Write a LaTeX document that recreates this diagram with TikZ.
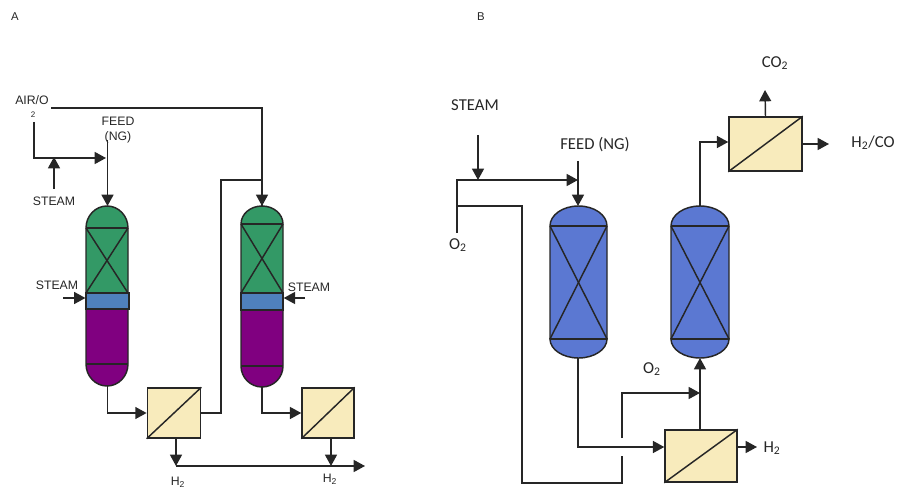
\documentclass[tikz,border=0pt]{standalone}
\usepackage{fontspec}
\setmainfont{Liberation Sans}
\newfontfamily\calib{Carlito}
\usetikzlibrary{arrows.meta}
\definecolor{vesselgreen}{HTML}{339966}
\definecolor{sectionblue}{HTML}{4F81BD}
\definecolor{vesselpurple}{HTML}{800080}
\definecolor{vesselblue}{HTML}{5B78D2}
\definecolor{membranefill}{HTML}{F8EBBC}
\tikzset{
  shell/.style={draw=black!85, line width=1.1pt},
  pipe/.style={draw=black!85, line width=1.1pt},
  flow/.style={pipe, -{Triangle[length=8.5pt,width=9pt]}},
  membrane/.style={draw=black!85, line width=1.1pt, fill=membranefill, minimum width=#1, inner sep=0pt},
  section/.style={draw=black!85, line width=1.1pt, fill=sectionblue, inner sep=0pt},
  lblA/.style={font=\fontsize{9.2}{11}\selectfont, text=black!85, inner sep=0pt, align=center},
  lblB/.style={font=\calib\fontsize{12.5}{14}\selectfont, text=black!85, inner sep=0pt, align=center},
}
% top part of a vessel: centre, half width, top, head line, end of packing, colour
\newcommand{\vesseltop}[6]{
  \draw[shell, fill=#6] (#1-#2,#5) -- (#1-#2,#4)
    arc[start angle=180, end angle=360, x radius=#2, y radius=#4-#3] -- (#1+#2,#5) -- cycle;
  \draw[shell] (#1-#2,#4) -- (#1+#2,#4);
  \draw[shell] (#1-#2,#4) -- (#1+#2,#5);
  \draw[shell] (#1+#2,#4) -- (#1-#2,#5);
}
% lower part of a vessel: centre, half width, start, foot line, bottom, colour
\newcommand{\vesselbot}[6]{
  \draw[shell, fill=#6] (#1-#2,#3) -- (#1-#2,#4)
    arc[start angle=180, end angle=0, x radius=#2, y radius=#5-#4] -- (#1+#2,#3) -- cycle;
  \draw[shell] (#1-#2,#4) -- (#1+#2,#4);
}
\begin{document}
\begin{tikzpicture}[x=0.75pt, y=-0.75pt]
  \useasboundingbox (0,0) rectangle (899,488);
  % Panel letters
  \node[lblA, font=\fontsize{8.5}{10}\selectfont] (panelA) at (15,17) {A};
  \node[lblA, font=\fontsize{8.5}{10}\selectfont] (panelB) at (481,17) {B};

  % Vessels, panel A
  \vesseltop{107}{21}{206}{228}{293}{vesselgreen}
  \vesselbot{107}{21}{309}{364}{386}{vesselpurple}
  \node[section, minimum width=32pt, minimum height=12pt] (bandA) at (107.5,301) {};
  \vesseltop{262}{21}{206}{224}{293}{vesselgreen}
  \vesselbot{262}{21}{310}{366}{387}{vesselpurple}
  \node[section, minimum width=31.5pt, minimum height=12.75pt] (bandB) at (262,301.5) {};
  % Vessels, panel B
  \vesseltop{578.5}{28.5}{206}{226}{339}{vesselblue}
  \vesselbot{578.5}{28.5}{339}{339}{358}{vesselblue}
  \vesseltop{700}{29}{206}{226}{339}{vesselblue}
  \vesselbot{700}{29}{339}{339}{358}{vesselblue}

  % Membranes
  \node[membrane=40pt, minimum height=37.5pt] (memA) at (174,413) {};
  \node[membrane=39pt, minimum height=37.5pt] (memB) at (328,413) {};
  \node[membrane=54pt, minimum height=39pt] (memC) at (701,456) {};
  \node[membrane=54.75pt, minimum height=40.5pt] (memD) at (765.5,144) {};
  \foreach \m in {memA,memB,memC,memD}
    \draw[shell] (\m.south west) -- (\m.north east);

  % Labels, panel A
  \node[lblA] (airlbl) at (32,100) {AIR/O};
  \node[lblA, font=\fontsize{6}{7}\selectfont] (airsub) at (33,115) {2};
  \node[lblA] (feedA) at (118,130) {FEED\\(NG)};
  \node[lblA] (steamA) at (54,201) {STEAM};
  \node[lblA] (steamB) at (57,285) {STEAM};
  \node[lblA] (steamC) at (309,287) {STEAM};
  \node[lblA] (hA) at (178,482) {H\textsubscript{2}};
  \node[lblA] (hB) at (330,479) {H\textsubscript{2}};
  % Labels, panel B
  \node[lblB] (steamD) at (475,105) {STEAM};
  \node[lblB] (feedB) at (595,145) {FEED (NG)};
  \node[lblB] (oA) at (458,245) {O\textsubscript{2}};
  \node[lblB] (oB) at (652,369) {O\textsubscript{2}};
  \node[lblB] (hC) at (772,448) {H\textsubscript{2}};
  \node[lblB] (coA) at (775,63) {CO\textsubscript{2}};
  \node[lblB] (syn) at (873,143) {H\textsubscript{2}/CO};

  % Pipe ends, panel A
  \coordinate (vA) at (107.5,206);
  \coordinate (vAb) at (107.5,386);
  \coordinate (vB) at (262,206);
  \coordinate (vBb) at (262,387);
  \coordinate (airend) at (51,108);
  \coordinate (airlow) at (34,122);
  \coordinate (mix) at (106,158);
  \coordinate (feedtop) at (107.5,140);
  \coordinate (steamAs) at (54,189);
  \coordinate (steamAe) at (54,157);
  \coordinate (steamBs) at (63,298);
  \coordinate (steamCs) at (305,298);
  \coordinate (hmainA) at (176,466);
  \coordinate (hmainB) at (331,466);
  \coordinate (hend) at (365,466);
  % Pipe ends, panel B
  \coordinate (vC) at (578,206);
  \coordinate (vCb) at (578,358);
  \coordinate (vD) at (700,206);
  \coordinate (vDb) at (700,358);
  \coordinate (steamDs) at (478,135);
  \coordinate (steamDe) at (478,180);
  \coordinate (feedBs) at (578,161);
  \coordinate (oAs) at (457,233);
  \coordinate (feedBe) at (578,180);
  \coordinate (split) at (457,206);
  \coordinate (gapA) at (622,456);
  \coordinate (gapB) at (622,438);
  \coordinate (oBe) at (700,393);
  \coordinate (coe) at (765,90);
  \coordinate (she) at (829,144);
  \coordinate (hCe) at (757,447);

  % Connectors, panel A
  \draw[flow] (airend) -- (262,108) -- (vB);
  \draw[pipe] (memA.east) -- (221,413) -- (221,180) -- (262,180) -- (vB);
  \draw[flow] (airlow) -- (34,158) -- (mix);
  \draw[flow] (feedtop) -- (vA);
  \draw[flow] (steamAs) -- (steamAe);
  \draw[flow] (steamBs) -- (bandA.west |- steamBs);
  \draw[flow] (steamCs) -- (bandB.east |- steamCs);
  \draw[flow] (vAb) -- (107.5,413) -- (memA.west);
  \draw[flow] (vBb) -- (262,413) -- (memB.west);
  \draw[flow] (memA.south -| hmainA) -- (hmainA);
  \draw[flow] (memB.south -| hmainB) -- (hmainB);
  \draw[flow] (hmainA) -- (hend);

  % Connectors, panel B
  \draw[flow] (steamDs) -- (steamDe);
  \draw[flow] (oAs) -- (457,180) -- (feedBe);
  \draw[flow] (feedBs) -- (vC);
  \draw[pipe] (split) -- (522,206) -- (522,483) -- (622,483) -- (gapA);
  \draw[flow] (gapB) -- (622,393) -- (oBe);
  \draw[flow] (vCb) -- (578,447) -- (memC.west |- 0,447);
  \draw[flow] (memC.north -| vDb) -- (vDb);
  \draw[flow] (memC.east |- hCe) -- (hCe);
  \draw[flow] (vD) -- (700,142) -- (memD.west |- 0,142);
  \draw[flow] (memD.north) -- (coe);
  \draw[flow] (memD.east) -- (she);
\end{tikzpicture}
\end{document}
